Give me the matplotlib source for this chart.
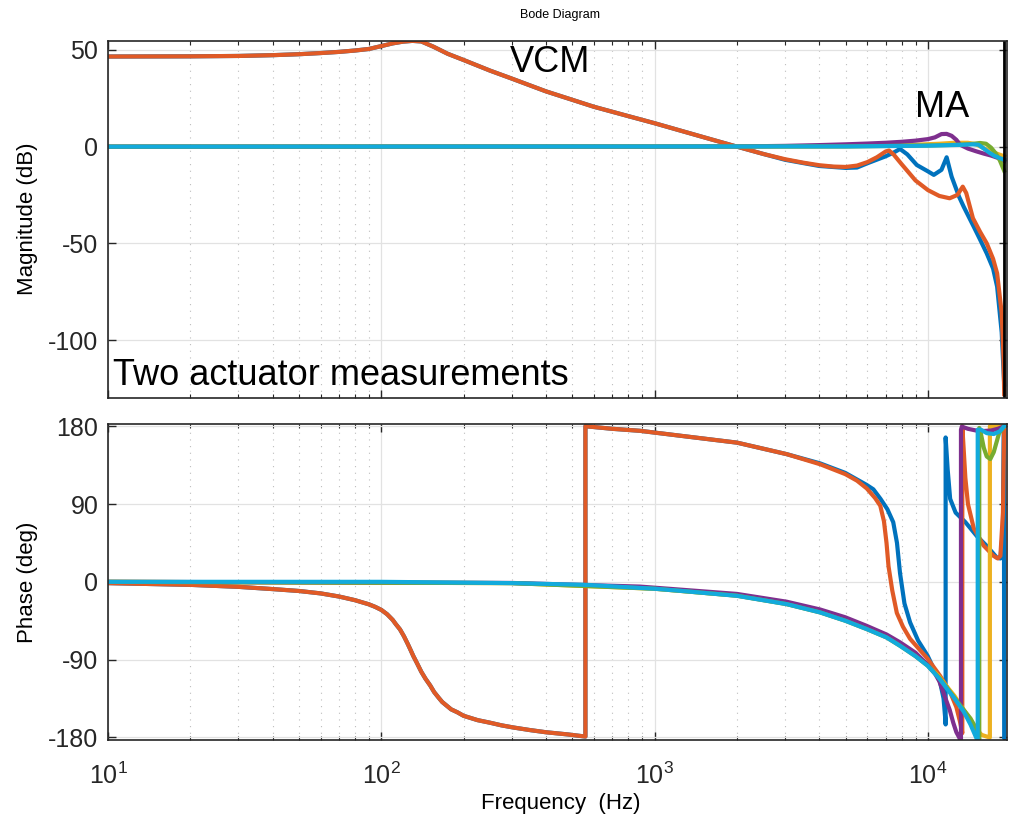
import numpy as np
import matplotlib
matplotlib.use("Agg")
import matplotlib.pyplot as plt
from matplotlib.ticker import LogLocator, NullFormatter

plt.rcParams['font.family'] = ['Liberation Sans', 'DejaVu Sans']
plt.rcParams['axes.unicode_minus'] = False

# colours (MATLAB order)
cBlue = '#0072BD'
cOrange = '#E05A26'
cYellow = '#EDB120'
cPurple = '#7E2F8E'
cGreen = '#77AC30'
cCyan = '#12AADC'

nyquist = 19000

# ---- magnitude (dB) ----
# part shared by both VCM measurements (they overlap below ~2.5 kHz)
fMagVcm = [10, 20, 30, 40, 50, 60, 70, 80, 90, 100, 110, 120, 130, 140, 155, 175, 200,
           250, 300, 400, 600, 800, 1000, 1500, 2000, 2500]
magVcm = [46.6, 46.7, 46.9, 47.3, 47.8, 48.4, 49.0, 49.7, 50.5, 52.0, 53.4, 54.3, 54.7, 54.4,
          51.7, 48.0, 44.8, 39.3, 35.2, 28.6, 20.6, 15.8, 12.1, 5.0, 0.0, -3.8]
# VCM measurement 2 (orange), high frequency part
fMagOrange = [3000, 3500, 4000, 4500, 5000, 5500, 6000, 6500, 7000, 7200, 7500, 8000, 9000,
              10000, 11000, 12000, 12800, 13400, 13800, 14600, 15500, 16400, 17300, 17900,
              18600, 18900, 19000]
magOrange = [-6.5, -8.3, -9.6, -10.3, -10.5, -9.8, -8.0, -5.5, -2.5, -2.0, -4.2, -9.0, -17.5,
             -22.5, -25.5, -26.7, -25.0, -20.7, -24.0, -37.0, -44.0, -50.0, -58.0, -65.5,
             -86.0, -110.0, -128.0]
# VCM measurement 1 (blue), high frequency part
fMagBlue = [3000, 4000, 5000, 5500, 6000, 7000, 7500, 7900, 8400, 9100, 10000, 10500, 11200,
            11700, 12200, 13000, 13500, 14700, 15500, 16400, 17300, 17900, 18600, 19000]
magBlue = [-6.8, -10.0, -11.0, -10.8, -8.6, -5.0, -3.0, -1.2, -4.0, -9.5, -12.8, -14.6, -12.0,
           -5.5, -15.5, -26.0, -31.0, -41.4, -48.0, -55.2, -63.0, -72.4, -96.0, -123.0]
# MA measurements
fMagPurple = [10, 1000, 2000, 3000, 4000, 5000, 6000, 7000, 8000, 9000, 10000, 10600, 11200,
              11700, 12200, 12700, 13100, 14000, 15000, 16000, 17000, 18000, 19000]
magPurple = [0, 0, 0.1, 0.4, 0.8, 1.2, 1.6, 2.0, 2.5, 3.1, 3.9, 4.8, 6.5, 6.6, 5.6, 3.5, 1.0,
             -1.0, -2.4, -3.6, -4.6, -5.8, -7.5]
fMagYellow = [10, 3000, 6000, 9000, 11000, 12500, 14000, 15000, 16000, 17000, 18000, 19000]
magYellow = [0, 0.1, 0.4, 1.0, 1.5, 2.0, 2.0, 1.2, -0.8, -2.5, -3.8, -5.0]
fMagGreen = [10, 5000, 10000, 13000, 14500, 15500, 16300, 17000, 17700, 18300, 19000]
magGreen = [0, 0.1, 0.6, 1.0, 1.4, 1.9, 1.5, -0.5, -3.5, -7.0, -12.5]
fMagCyan = [10, 5000, 10000, 13000, 14500, 15300, 16000, 16800, 17500, 18300, 19000]
magCyan = [0, 0.1, 0.5, 0.9, 1.2, 1.0, -1.0, -3.2, -4.8, -5.9, -6.8]

# ---- phase (deg) ----
# part shared by both VCM measurements (wraps at ~558 Hz)
fPhVcm = [10, 20, 30, 40, 50, 60, 70, 80, 90, 95, 100, 105, 110, 113, 117, 121, 125, 128, 131,
          135, 140, 145, 151, 156, 162, 167, 173, 180, 190, 200, 225, 250, 275, 304, 350, 400,
          480, 558, 558, 700, 883, 1240, 2000, 3040]
phVcm = [-1.5, -3.5, -5.8, -8.4, -10.6, -13.4, -17, -21.2, -26, -29, -32.5, -37.5, -44, -49,
         -55, -63, -72, -79, -86, -94, -104, -112, -120, -127.5, -134, -139, -143, -147.5, -151,
         -155, -160, -163, -166, -168.5, -171.5, -174, -176.5, -179, 180, 177, 174.7, 169, 161,
         147.7]
fPhOrange = [4030, 4980, 5500, 5970, 6400, 6690, 6900, 7050, 7170, 7400, 7690, 8100, 8600,
             9970, 11070, 12050, 12700, 13100, 13350, 13350, 13700, 14000, 14700, 15970,
             17370, 18000, 18400, 18800, 19000]
phOrange = [136, 124.6, 117, 108, 97, 88, 70, 45, 18, -10, -36, -52, -66, -89, -108.8,
            -127.6, -145, -162, -175, 180, 120, 90, 62, 42, 30, 27, 30, 80, 180]
fPhBlue = [4030, 4980, 5970, 6310, 6700, 7100, 7460, 7700, 7900, 8200, 8600, 9200, 9970,
           11070, 11400, 11560, 11600, 11600, 11800, 12050, 12620, 13700, 15080, 16400,
           17860, 18400, 18800, 18950, 19000]
phBlue = [137, 126, 112, 107, 96, 84, 69, 45, 10, -25, -47, -68, -85.6, -116, -135, -158,
          -165, 167, 130, 96, 80, 69, 53, 41.6, 28, 27, 60, 180, -180]
fPhPurple = [10, 300, 883, 2000, 3040, 4030, 4980, 5970, 7060, 7900, 9000, 9970, 10600,
             11000, 11500, 12000, 12370, 12700, 13000, 13200, 13200, 13300, 14000, 15000,
             16000, 17000, 18000, 19000]
phPurple = [0, -1.3, -5.5, -14, -23, -32, -41, -51, -61, -70, -82, -96, -106, -115, -132,
            -148, -163, -174, -180, -184, 176, 179.5, 177, 175, 174.5, 175, 177, 180]
fPhYellow = [10, 300, 1000, 2000, 3040, 4030, 4980, 5970, 7060, 7900, 9000, 9970, 11000,
             11500, 12500, 13500, 14300, 15000, 15700, 16400, 16840, 16840, 19000]
phYellow = [0, -1.5, -8, -16, -25.5, -35, -44.5, -54, -64, -73, -85, -96, -110, -118, -132,
            -148, -160, -170, -177, -179, -180, 180, 180]
fPhGreen = [10, 300, 1000, 2000, 3040, 4030, 4980, 5970, 7060, 7900, 9000, 9970, 11000,
            11500, 12500, 13500, 14300, 14900, 15200, 15400, 15400, 15600, 16000, 16400,
            16900, 17400, 18200, 19000]
phGreen = [0, -1.5, -8, -16, -25.8, -35.4, -45, -54.7, -64.4, -74, -86, -97, -111, -119,
           -134, -148, -158, -168, -175, -182, 178, 172, 155, 145, 142, 150, 172, 180]
fPhCyan = [10, 100, 300, 560, 1000, 1240, 2000, 3040, 4030, 4980, 5970, 7060, 7900, 9000,
           9970, 11000, 11500, 12500, 13500, 14300, 14900, 15200, 15200, 15600, 16400, 17400,
           18300, 19000]
phCyan = [0, 0, -1.5, -3.5, -8, -10.4, -16.2, -25.8, -35.4, -45, -54.7, -64.4, -74, -86,
          -97, -112, -120, -135, -150, -165, -178, -184, 176, 176, 172, 171, 174, 180]

magSeries = [(fMagVcm + fMagBlue, magVcm + magBlue, cBlue),
             (fMagVcm + fMagOrange, magVcm + magOrange, cOrange),
             (fMagYellow, magYellow, cYellow), (fMagPurple, magPurple, cPurple),
             (fMagGreen, magGreen, cGreen), (fMagCyan, magCyan, cCyan)]
phSeries = [(fPhVcm + fPhBlue, phVcm + phBlue, cBlue),
            (fPhVcm + fPhOrange, phVcm + phOrange, cOrange),
            (fPhYellow, phYellow, cYellow), (fPhPurple, phPurple, cPurple),
            (fPhGreen, phGreen, cGreen), (fPhCyan, phCyan, cCyan)]

fig = plt.figure(figsize=(10.15, 8.25), dpi=100)
axMag = fig.add_axes([0.1064, 0.518, 0.8854, 0.4327])
axPh = fig.add_axes([0.1064, 0.103, 0.8854, 0.383])

for f, m, c in magSeries:
    axMag.semilogx(f, m, color=c, lw=3.0, solid_joinstyle='round')
axMag.axvline(nyquist, color='black', lw=2.0)
axPh.axvline(nyquist, color='black', lw=2.0)
for f, p, c in phSeries:
    axPh.semilogx(f, p, color=c, lw=3.0, solid_joinstyle='round')

for ax in (axMag, axPh):
    ax.set_xscale('log')
    ax.set_xlim(10, 19400)
    ax.xaxis.set_major_locator(LogLocator(base=10))
    ax.xaxis.set_minor_locator(LogLocator(base=10, subs=np.arange(2, 10)))
    ax.xaxis.set_minor_formatter(NullFormatter())
    ax.grid(True, which='major', color='#e2e2e2', lw=0.9, ls='-')
    ax.grid(True, which='minor', axis='x', color='#bdbdbd', lw=0.8, ls=(0, (1, 5)))
    ax.set_axisbelow(True)
    ax.tick_params(which='both', direction='in', top=True, right=True,
                   labelsize=18, colors='#262626')
    ax.tick_params(which='major', length=6, width=1.0)
    ax.tick_params(which='minor', length=3, width=0.8)
    ax.tick_params(axis='y', pad=7)
    ax.tick_params(axis='x', pad=16)
    for s in ax.spines.values():
        s.set_color('#262626')
        s.set_linewidth(1.2)

axMag.set_ylim(-129.8, 54.8)
axMag.set_yticks([-100, -50, 0, 50])
axMag.tick_params(axis='x', labelbottom=False)
axPh.set_ylim(-183, 182.5)
axPh.set_yticks([-180, -90, 0, 90, 180])

axMag.set_ylabel('Magnitude (dB)', fontsize=16)
axPh.set_ylabel('Phase (deg)', fontsize=16)
axMag.yaxis.set_label_coords(-0.078, 0.5)
axPh.yaxis.set_label_coords(-0.078, 0.5)

axMag.text(296, 43.3, 'VCM', fontsize=26, ha='left', va='center')
axMag.text(8970, 20.5, 'MA', fontsize=26, ha='left', va='center')
axMag.text(10.4, -118.6, 'Two actuator measurements', fontsize=26, ha='left', va='center')

fig.text(0.552, 0.982, 'Bode Diagram', fontsize=9, ha='center', va='center')
fig.text(0.552, 1 - 803 / 825, 'Frequency  (Hz)', fontsize=16, ha='center', va='center')

fig.savefig('out.png', dpi=100)
